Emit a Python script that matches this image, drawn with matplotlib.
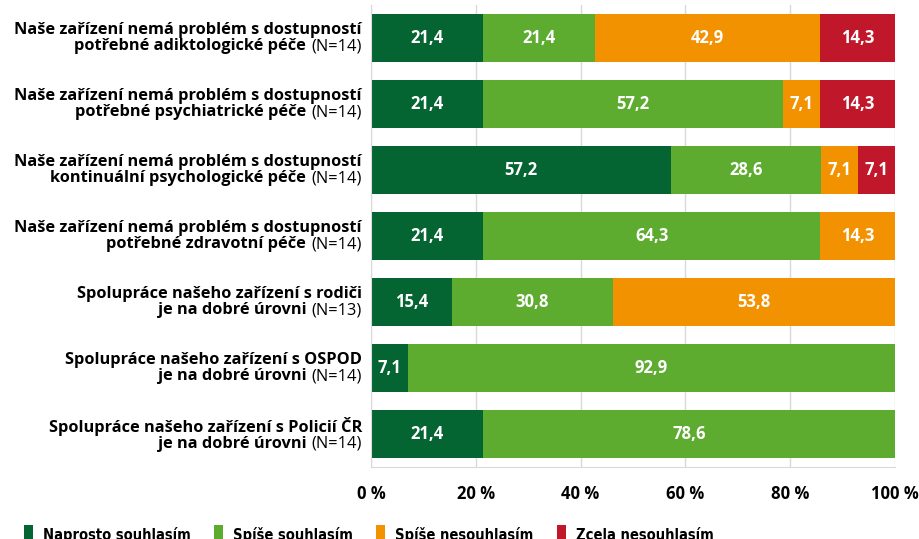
import matplotlib

matplotlib.use("Agg")
import matplotlib.pyplot as plt
from matplotlib.offsetbox import TextArea, HPacker, VPacker, AnnotationBbox

plt.rcParams["font.family"] = ["Open Sans", "DejaVu Sans"]

line1 = ["Naše zařízení nemá problém s dostupností"] * 4 + [
    "Spolupráce našeho zařízení s rodiči",
    "Spolupráce našeho zařízení s OSPOD",
    "Spolupráce našeho zařízení s Policií ČR",
]
line2 = ["potřebné adiktologické péče", "potřebné psychiatrické péče",
         "kontinuální psychologické péče", "potřebné zdravotní péče",
         "je na dobré úrovni", "je na dobré úrovni", "je na dobré úrovni"]
n_resp = [14, 14, 14, 14, 13, 14, 14]

series = ["Naprosto souhlasím", "Spíše souhlasím", "Spíše nesouhlasím", "Zcela nesouhlasím"]
colors = ["#046432", "#5dab2f", "#f39200", "#c0172a"]
values = [
    [21.4, 21.4, 42.9, 14.3],
    [21.4, 57.2, 7.1, 14.3],
    [57.2, 28.6, 7.1, 7.1],
    [21.4, 64.3, 14.3, 0],
    [15.4, 30.8, 53.8, 0],
    [7.1, 92.9, 0, 0],
    [21.4, 78.6, 0, 0],
]

fig = plt.figure(figsize=(9.2, 5.39), dpi=100)
ax = fig.add_axes([371 / 920, 1 - 467 / 539, 524 / 920, 462 / 539])

ys = list(range(len(values)))
left = [0.0] * len(values)
handles = []
for k, (name, color) in enumerate(zip(series, colors)):
    vals = [row[k] for row in values]
    bars = ax.barh(ys, vals, left=left, height=0.72, color=color, label=name, zorder=2)
    handles.append(bars)
    for y, v, l in zip(ys, vals, left):
        if v > 0:
            ax.text(l + v / 2, y, f"{v:.1f}".replace(".", ","), ha="center", va="center",
                    color="white", fontsize=12, fontweight="bold", zorder=3)
    left = [l + v for l, v in zip(left, vals)]

ax.set_xlim(0, 100)
ax.set_ylim(6.5, -0.5)
ax.set_xticks([0, 20, 40, 60, 80, 100])
ax.set_xticklabels([f"{t} %" for t in [0, 20, 40, 60, 80, 100]], fontweight="bold", fontsize=12)
ax.tick_params(axis="x", length=0, pad=13)
ax.set_yticks([])
ax.grid(axis="x", color="#d9d9d9", lw=1, zorder=0)
for s in ("top", "right"):
    ax.spines[s].set_visible(False)
for s in ("left", "bottom"):
    ax.spines[s].set_color("#d9d9d9")

for y, a, b, n in zip(ys, line1, line2, n_resp):
    t1 = TextArea(a, textprops=dict(fontweight="bold", fontsize=11.8))
    t2 = TextArea(b, textprops=dict(fontweight="bold", fontsize=11.8))
    t3 = TextArea(f"(N={n})", textprops=dict(fontsize=11.8))
    row2 = HPacker(children=[t2, t3], align="baseline", pad=0, sep=4)
    box = VPacker(children=[t1, row2], align="right", pad=0, sep=0)
    ab = AnnotationBbox(box, (0, y), xycoords=("axes fraction", "data"),
                        xybox=(-6.5, 0), boxcoords="offset points",
                        box_alignment=(1, 0.5), frameon=False, annotation_clip=False)
    ax.add_artist(ab)

fig.legend(handles=handles, labels=series, loc="upper left", bbox_to_anchor=(0.012, 0.05),
           ncol=4, frameon=False, handlelength=0.6, handleheight=1.7, handletextpad=0.7,
           columnspacing=1.6,
           prop=dict(family="DejaVu Sans", stretch="condensed", weight="bold", size=10.5))

fig.savefig("out.png", dpi=100)
